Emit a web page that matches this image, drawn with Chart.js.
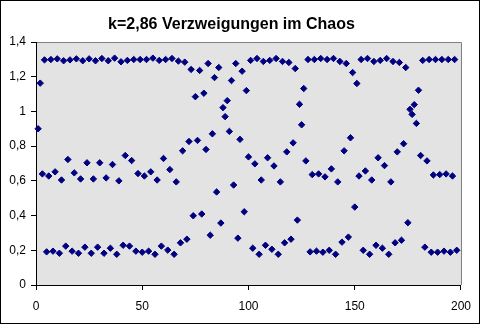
<!DOCTYPE html>
<html><head><meta charset="utf-8">
<script src="https://cdn.jsdelivr.net/npm/chart.js@4/dist/chart.umd.min.js"></script>
<style>html,body{margin:0;padding:0;background:#fff}canvas{display:block}</style>
</head><body>
<canvas id="c" width="480" height="324"></canvas>
<script>
const chartTitle = 'k=2,86 Verzweigungen im Chaos';
const firstStep = 1;
const values = [
  0.900, 1.163, 0.640, 1.297, 0.191, 0.628, 1.299, 0.195, 0.652, 1.303,
  0.183, 0.605, 1.292, 0.224, 0.723, 1.297, 0.195, 0.646, 1.303, 0.183,
  0.611, 1.292, 0.218, 0.704, 1.303, 0.183, 0.611, 1.292, 0.218, 0.704,
  1.305, 0.183, 0.617, 1.292, 0.212, 0.694, 1.307, 0.177, 0.600, 1.286,
  0.229, 0.746, 1.294, 0.224, 0.717, 1.299, 0.195, 0.642, 1.299, 0.189,
  0.628, 1.299, 0.195, 0.652, 1.307, 0.177, 0.605, 1.294, 0.224, 0.729,
  1.299, 0.201, 0.665, 1.305, 0.177, 0.594, 1.290, 0.243, 0.773, 1.284,
  0.264, 0.827, 1.242, 0.399, 1.085, 0.833, 1.236, 0.409, 1.105, 0.781,
  1.276, 0.287, 0.871, 1.195, 0.536, 1.253, 0.357, 1.022, 0.970, 1.062,
  0.885, 1.178, 0.576, 1.276, 0.270, 0.839, 1.232, 0.422, 1.120, 0.738,
  1.294, 0.212, 0.698, 1.305, 0.177, 0.605, 1.288, 0.229, 0.733, 1.294,
  0.206, 0.686, 1.305, 0.177, 0.594, 1.288, 0.243, 0.767, 1.282, 0.264,
  0.819, 1.247, 0.374, 1.041, 0.923, 1.132, 0.715, 1.299, 0.191, 0.636,
  1.299, 0.195, 0.640, 1.305, 0.189, 0.623, 1.299, 0.200, 0.669, 1.305,
  0.177, 0.594, 1.288, 0.247, 0.773, 1.276, 0.276, 0.848, 1.224, 0.449,
  1.161, 0.628, 1.299, 0.200, 0.657, 1.305, 0.177, 0.605, 1.288, 0.229,
  0.733, 1.294, 0.212, 0.688, 1.305, 0.177, 0.594, 1.288, 0.243, 0.767,
  1.282, 0.258, 0.814, 1.253, 0.359, 1.012, 0.983, 1.039, 0.931, 1.122,
  0.746, 1.294, 0.218, 0.715, 1.299, 0.189, 0.634, 1.299, 0.189, 0.636,
  1.299, 0.195, 0.640, 1.299, 0.189, 0.628, 1.299, 0.200
];
const xTicks = [0, 50, 100, 150, 200];
const xTickLabels = ['0', '50', '100', '150', '200'];
const yTicks = [0, 0.2, 0.4, 0.6, 0.8, 1, 1.2, 1.4];
const yTickLabels = ['0', '0,2', '0,4', '0,6', '0,8', '1', '1,2', '1,4'];

const points = values.map((v, i) => ({ x: firstStep + i, y: v }));

const frame = {
  id: 'frame',
  beforeDraw(chart) {
    const { ctx, chartArea: a } = chart;
    ctx.save();
    ctx.fillStyle = '#fff';
    ctx.fillRect(0, 0, chart.width, chart.height);
    ctx.fillStyle = '#E3E3E3';
    ctx.fillRect(a.left, a.top, a.right - a.left, a.bottom - a.top);
    ctx.strokeStyle = '#808080';
    ctx.lineWidth = 1;
    ctx.beginPath();
    ctx.moveTo(a.left, a.top + 0.5);
    ctx.lineTo(a.right + 0.5, a.top + 0.5);
    ctx.lineTo(a.right + 0.5, a.bottom);
    ctx.stroke();
    ctx.strokeStyle = '#000';
    ctx.strokeRect(0.5, 0.5, chart.width - 1, chart.height - 1);
    ctx.restore();
  }
};

const font = { family: '"Liberation Sans", Arial, sans-serif', size: 12 };

new Chart(document.getElementById('c'), {
  type: 'scatter',
  data: {
    datasets: [{
      data: points,
      pointStyle: 'rectRot',
      pointRadius: 3.2,
      pointBorderWidth: 1,
      backgroundColor: '#000080',
      borderColor: '#000080',
      showLine: false,
      clip: false
    }]
  },
  options: {
    responsive: false,
    animation: false,
    layout: { padding: { left: 0, right: 17, top: 0, bottom: 0 } },
    plugins: {
      legend: { display: false },
      tooltip: { enabled: false },
      title: {
        display: true,
        text: chartTitle,
        color: '#000',
        font: { family: '"Liberation Sans", Arial, sans-serif', size: 16, weight: 'bold' },
        padding: { top: 15, bottom: 7.8 }
      }
    },
    scales: {
      x: {
        type: 'linear',
        min: 0, max: 200,
        afterBuildTicks: s => { s.ticks = xTicks.map(v => ({ value: v })); },
        afterFit: s => { s.height = 39; },
        ticks: {
          autoSkip: false, maxRotation: 0, color: '#000', font, padding: 9,
          callback: (v, i) => xTickLabels[i]
        },
        grid: { display: true, drawOnChartArea: false, drawTicks: true, tickLength: 5, color: '#000' },
        border: { display: true, color: '#000' }
      },
      y: {
        min: 0, max: 1.4,
        afterBuildTicks: s => { s.ticks = yTicks.map(v => ({ value: v })); },
        afterFit: s => { s.width = 36; },
        ticks: {
          autoSkip: false, color: '#000', font, padding: 5,
          callback: (v, i) => yTickLabels[i]
        },
        grid: { display: true, drawOnChartArea: false, drawTicks: true, tickLength: 5, color: '#000' },
        border: { display: true, color: '#000' }
      }
    }
  },
  plugins: [frame]
});
</script>
</body></html>
